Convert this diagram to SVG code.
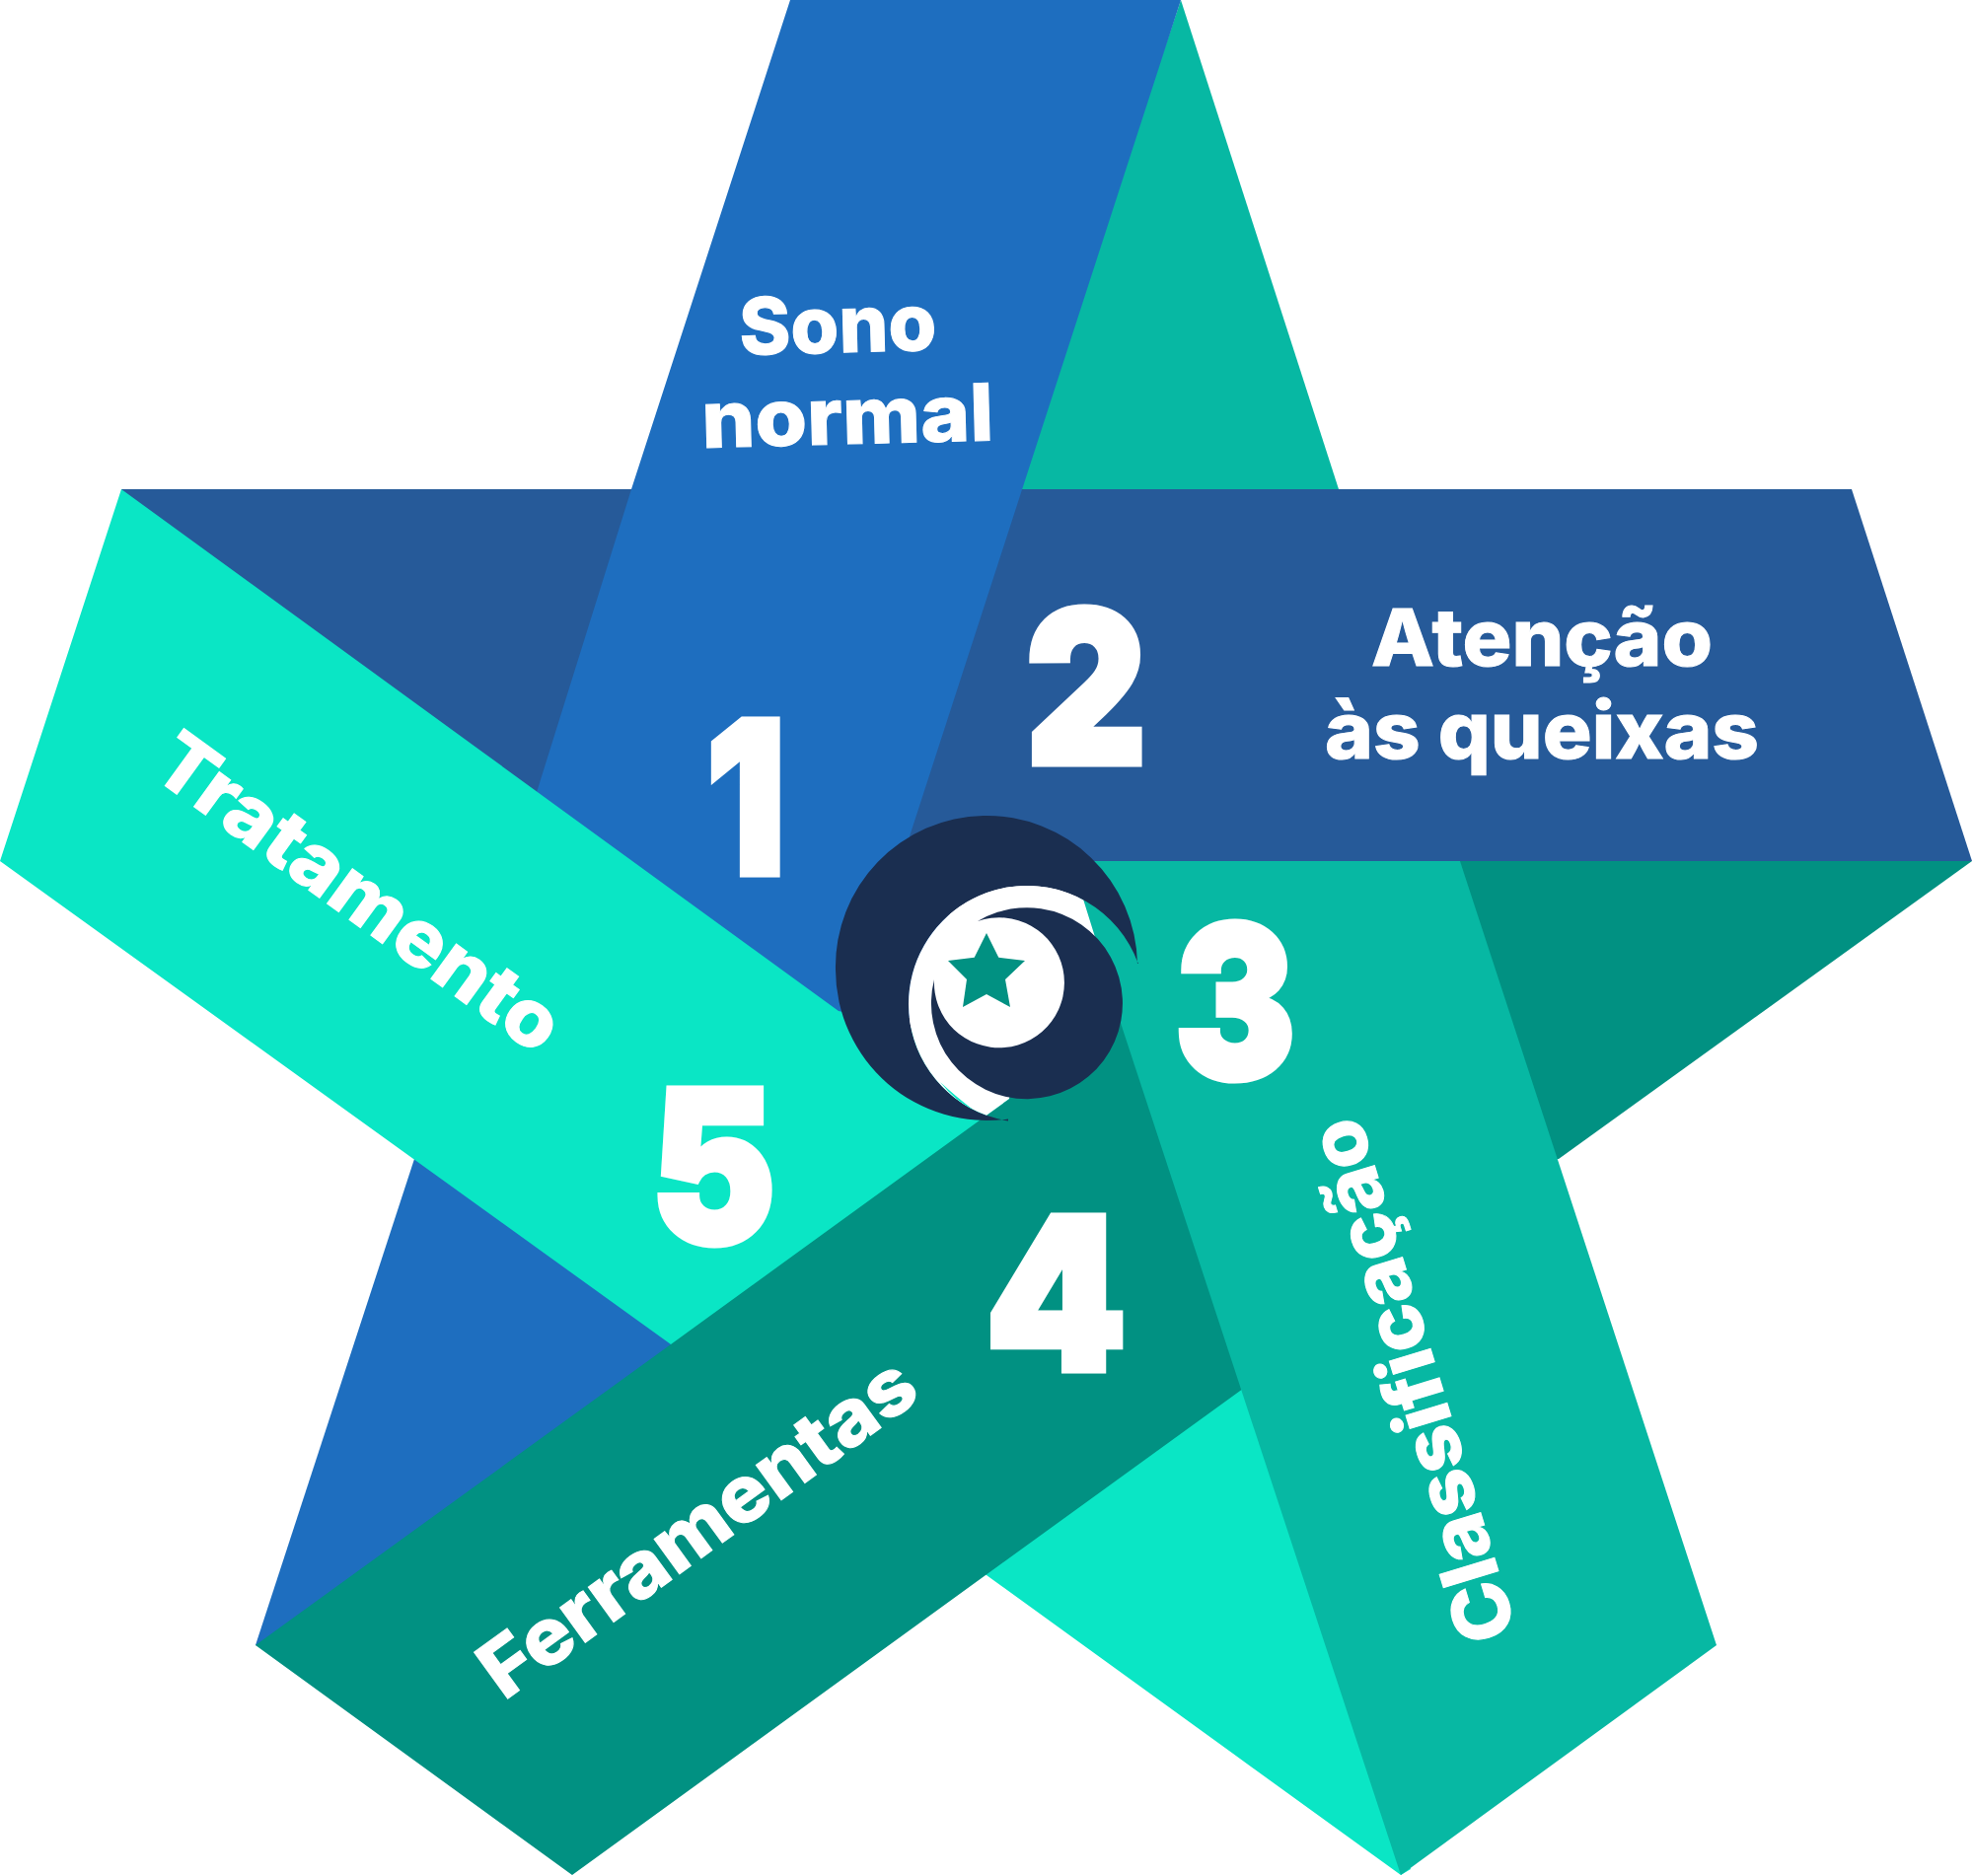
<svg xmlns="http://www.w3.org/2000/svg" width="2000" height="1902" viewBox="0 0 2000 1902">
<style>
text{font-family:"Inter","Liberation Sans",sans-serif;fill:#fff;stroke:#fff;stroke-linejoin:miter}
.n{font-weight:900;font-size:214px;stroke-width:7px}
.l{font-weight:800;font-size:80px;stroke-width:1px}
.blue{fill:#1e6ebf}.navy{fill:#265a99}.teal{fill:#07b8a3}.deep{fill:#019182}.mint{fill:#0ae6c5}
</style>
<rect width="2000" height="1902" fill="#fff"/>
<g id="back-shapes">
<polygon class="teal" points="1197,0 1357,496 1357,500 1036,500 1030,496"/>
<polygon class="deep" points="1470,870 1985,870 1999,873 1580,1175 1570,1175"/>
<polygon class="blue" points="420,1175 440,1170 690,1370 280,1672 259,1668"/>
<polygon class="mint" points="1000,1597 990,1590 1240,1400 1290,1420 1430,1895 1420,1901"/>
</g>
<g id="ribbon-4"><polygon class="deep" points="259,1668 680,1363 680,1355 1023,1105 1134,1030 1150,1030 1275,1397 580,1901"/></g>
<g id="ribbon-3"><polygon class="teal" points="1081,870 1479,870 1740,1668 1420,1901"/></g>
<g id="ribbon-2"><polygon class="navy" points="123,496 640,496 660,500 560,820 125,510"/><polygon class="navy" points="1030,496 1877,496 1999,873 900,873 900,800"/></g>
<g id="ribbon-1"><polygon class="blue" points="801,0 1197,0 922,848 1000,1000 850,1060 540,815 545,800 640,496"/></g>
<g id="ribbon-5"><polygon class="mint" points="123,496 0,873 680,1363 1023,1114 1000,1060 850,1025"/></g>
<g id="logo">
<path d="M1153 977A153 153 0 0 0 847 983A153 153 0 0 0 1022 1134.400L1022 1136.500A120 120 0 0 1 921 1018A120 120 0 0 1 1153.800 977Z" fill="#1a2e50"/>
<path d="M1098.300 912.500A120 120 0 0 0 921 1018A120 120 0 0 0 1000 1130.800L1023 1114L1041 1018L1110 950Z" fill="#fff"/>
<path d="M953 1097Q968 1116 987 1125.500Q968 1111 953 1097Z" class="mint"/>
<path d="M991 934A97 97 0 1 1 947 993A66 66 0 1 0 991 934Z" fill="#1a2e50"/>
<polygon class="deep" points="1000,946 1012.3,970.7 1039,974 1019,993 1024,1021 1000,1008 976,1021 980,993 961,974 987.700,970.700"/>
</g>
<g id="num-1"><text class="n" x="716" y="886" textLength="80" lengthAdjust="spacingAndGlyphs">1</text></g>
<g id="num-2"><text class="n" x="1040" y="774" textLength="122" lengthAdjust="spacingAndGlyphs">2</text></g>
<g id="num-3"><text class="n" x="1191" y="1093" textLength="122" lengthAdjust="spacingAndGlyphs">3</text></g>
<g id="num-4"><text class="n" x="999" y="1389" textLength="143" lengthAdjust="spacingAndGlyphs">4</text></g>
<g id="num-5"><text class="n" x="660" y="1260" textLength="126" lengthAdjust="spacingAndGlyphs">5</text></g>
<g id="label-1"><text class="l" transform="translate(750 360) rotate(-1.500)" textLength="200" lengthAdjust="spacingAndGlyphs">Sono</text><text class="l" transform="translate(712 454) rotate(-1.500)" textLength="296" lengthAdjust="spacingAndGlyphs">normal</text></g>
<g id="label-2"><text class="l" x="1390" y="675" textLength="346" lengthAdjust="spacingAndGlyphs">Atenção</text><text class="l" x="1343" y="769" textLength="440" lengthAdjust="spacingAndGlyphs">às queixas</text></g>
<g id="label-3"><text class="l" transform="translate(1538 1655) rotate(-107)" textLength="550" lengthAdjust="spacingAndGlyphs">Classificação</text></g>
<g id="label-4"><text class="l" transform="translate(511 1725) rotate(-36)" textLength="525" lengthAdjust="spacingAndGlyphs">Ferramentas</text></g>
<g id="label-5"><text class="l" transform="translate(150 784) rotate(36)" textLength="488" lengthAdjust="spacingAndGlyphs">Tratamento</text></g>
</svg>
